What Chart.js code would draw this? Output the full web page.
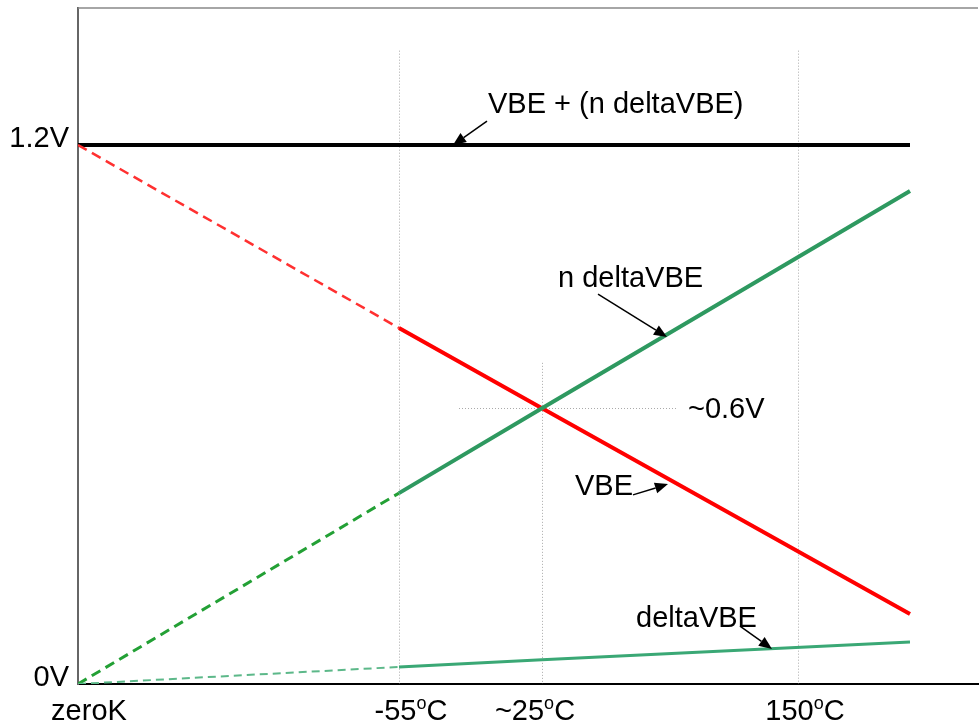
<!DOCTYPE html>
<html><head><meta charset="utf-8">
<script src="https://cdn.jsdelivr.net/npm/chart.js@4.4.1/dist/chart.umd.min.js"></script>
<style>html,body{margin:0;padding:0;background:#fff;}#wrap{width:980px;height:726px;}</style>
</head><body><div id="wrap"><canvas id="c" width="980" height="726"></canvas></div>
<script>
// ---------- data ----------
// x is a schematic (not-to-scale) temperature axis, in axis units
const xPoints = [0, 321, 464, 832];          // zeroK, -55°C, ~25°C, end of range
const vbe = [1.2, 0.7925, 0.614, 0.156];
const nDeltaVbe = [0, 0.425, 0.614, 1.0975];
const deltaVbe = [0, 0.038, 0.054, 0.0935];
const vbePlusNDelta = [1.2, 1.2, 1.2, 1.2];
const xTickValues = [0, 321, 464, 720];
const xTickLabels = ['zeroK', '-55^oC', '~25^oC', '150^oC'];
const yTickValues = [0, 1.2];
const yTickLabels = ['0V', '1.2V'];
const crossVoltage = 0.614;
const crossTemp = 464;

// ---------- annotation layout (data coords) ----------
const annotations = [
  {text: 'VBE + (n deltaVBE)', x: 410, y: 1.271, from: [409, 1.253], to: [375, 1.2]},
  {text: 'n deltaVBE', x: 480, y: 0.884, from: [520, 0.868], to: [589, 0.7725]},
  {text: '~0.6V', x: 610, y: 0.592},
  {text: 'VBE', x: 497, y: 0.421, from: [555, 0.421], to: [590, 0.445]},
  {text: 'deltaVBE', x: 558, y: 0.127, from: [662, 0.129], to: [694, 0.078]}
];
const xLabelDx = [11, 12, -7, 7];
const FONT = '"Liberation Sans", Arial, sans-serif';
const FS = 29;

function pts(ys) { return xPoints.map((x, i) => ({x, y: ys[i]})); }
const dashFirst = (d) => (ctx) => ctx.p0DataIndex === 0 ? d : undefined;
const widthFirst = (w) => (ctx) => ctx.p0DataIndex === 0 ? w : undefined;
const colorFirst = (c) => (ctx) => ctx.p0DataIndex === 0 ? c : undefined;

const decor = {
  id: 'decor',
  beforeDatasetsDraw(chart) {
    const {ctx, chartArea: a, scales: {x, y}} = chart;
    ctx.save();
    // top frame line
    ctx.strokeStyle = '#888'; ctx.lineWidth = 1.5;
    ctx.beginPath(); ctx.moveTo(a.left, a.top); ctx.lineTo(a.right, a.top); ctx.stroke();
    // dotted verticals
    ctx.strokeStyle = '#aaa'; ctx.lineWidth = 1; ctx.setLineDash([1, 2]);
    [xTickValues[1], xTickValues[3]].forEach(v => {
      const px = Math.round(x.getPixelForValue(v)) + 0.5;
      ctx.beginPath(); ctx.moveTo(px, y.getPixelForValue(1.41)); ctx.lineTo(px, a.bottom); ctx.stroke();
    });
    // crosshair
    const cx = Math.round(x.getPixelForValue(crossTemp)) + 0.5;
    const cy = Math.round(y.getPixelForValue(crossVoltage)) + 0.5;
    ctx.beginPath(); ctx.moveTo(cx, y.getPixelForValue(0.715)); ctx.lineTo(cx, a.bottom); ctx.stroke();
    ctx.beginPath(); ctx.moveTo(x.getPixelForValue(381), cy); ctx.lineTo(x.getPixelForValue(599), cy); ctx.stroke();
    ctx.restore();
  },
  afterDraw(chart) {
    const {ctx, chartArea: a, scales: {x, y}} = chart;
    ctx.save();
    ctx.fillStyle = '#000';
    ctx.textBaseline = 'alphabetic';
    // y tick labels
    ctx.font = FS + 'px ' + FONT; ctx.textAlign = 'right';
    yTickValues.forEach((v, i) => ctx.fillText(yTickLabels[i], a.left - 9, y.getPixelForValue(v) + 2));
    // x tick labels with superscript
    ctx.textAlign = 'left';
    xTickValues.forEach((v, i) => {
      const parts = xTickLabels[i].split('^');
      const segs = [{t: parts[0], sup: false}];
      if (parts[1]) { segs.push({t: parts[1][0], sup: true}); segs.push({t: parts[1].slice(1), sup: false}); }
      let w = 0;
      segs.forEach(s => { ctx.font = (s.sup ? '18px ' : FS + 'px ') + FONT; s.w = ctx.measureText(s.t).width; w += s.w; });
      let px = x.getPixelForValue(v) + xLabelDx[i] - w / 2;
      const base = a.bottom + 36;
      segs.forEach(s => { ctx.font = (s.sup ? '18px ' : FS + 'px ') + FONT; ctx.fillText(s.t, px, s.sup ? base - 11 : base); px += s.w; });
    });
    // annotations
    ctx.font = FS + 'px ' + FONT;
    annotations.forEach(an => {
      ctx.fillText(an.text, x.getPixelForValue(an.x), y.getPixelForValue(an.y));
      if (an.from) {
        const x0 = x.getPixelForValue(an.from[0]), y0 = y.getPixelForValue(an.from[1]);
        const x1 = x.getPixelForValue(an.to[0]), y1 = y.getPixelForValue(an.to[1]);
        const ang = Math.atan2(y1 - y0, x1 - x0), L = 13, H = 5.5;
        ctx.strokeStyle = '#000'; ctx.lineWidth = 1.5;
        ctx.beginPath(); ctx.moveTo(x0, y0);
        ctx.lineTo(x1 - L * Math.cos(ang), y1 - L * Math.sin(ang)); ctx.stroke();
        ctx.beginPath(); ctx.moveTo(x1, y1);
        ctx.lineTo(x1 - L * Math.cos(ang) + H * Math.sin(ang), y1 - L * Math.sin(ang) - H * Math.cos(ang));
        ctx.lineTo(x1 - L * Math.cos(ang) - H * Math.sin(ang), y1 - L * Math.sin(ang) + H * Math.cos(ang));
        ctx.closePath(); ctx.fill();
      }
    });
    ctx.restore();
  }
};

new Chart(document.getElementById('c'), {
  type: 'line',
  data: {
    datasets: [
      {label: 'deltaVBE', data: pts(deltaVbe), borderColor: '#3aa875', borderWidth: 3,
        segment: {borderDash: dashFirst([8, 5]), borderWidth: widthFirst(2), borderColor: colorFirst('#5cb889')}},
      {label: 'n deltaVBE', data: pts(nDeltaVbe), borderColor: '#2e9960', borderWidth: 4,
        segment: {borderDash: dashFirst([10, 6]), borderWidth: widthFirst(3), borderColor: colorFirst('#23a035')}},
      {label: 'VBE', data: pts(vbe), borderColor: '#ff0000', borderWidth: 4,
        segment: {borderDash: dashFirst([10, 6]), borderWidth: widthFirst(2.5), borderColor: colorFirst('#ff3030')}},
      {label: 'VBE + (n deltaVBE)', data: pts(vbePlusNDelta), borderColor: '#000000', borderWidth: 4}
    ]
  },
  options: {
    responsive: false, animation: false, devicePixelRatio: 1,
    layout: {padding: {left: 78, top: 8, right: 2, bottom: 42}},
    elements: {point: {radius: 0}, line: {tension: 0, borderCapStyle: 'butt'}},
    plugins: {legend: {display: false}, tooltip: {enabled: false}},
    scales: {
      x: {type: 'linear', min: 0, max: 900,
        grid: {display: false, drawTicks: false}, ticks: {display: false},
        border: {display: true, color: '#000', width: 2}},
      y: {type: 'linear', min: 0, max: 1.505,
        grid: {display: false, drawTicks: false}, ticks: {display: false},
        border: {display: true, color: '#666', width: 2}}
    }
  },
  plugins: [decor]
});
</script></body></html>
